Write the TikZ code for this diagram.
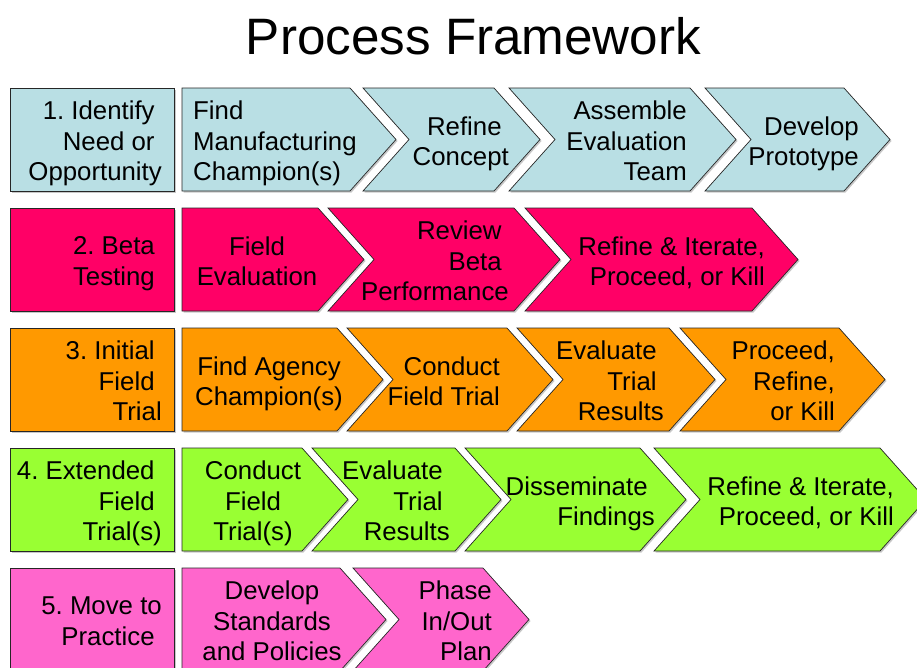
\documentclass[tikz,border=0pt]{standalone}
\usepackage{fontspec}
\setmainfont{Liberation Sans}
\usetikzlibrary{shadows}
\definecolor{idblue}{HTML}{B9DFE4}
\definecolor{betared}{HTML}{FF0066}
\definecolor{trialorange}{HTML}{FF9900}
\definecolor{extgreen}{HTML}{99FF33}
\definecolor{movepink}{HTML}{FF66CC}
\newcommand\tsp{\kern0.278em}
\frenchspacing
\begin{document}
\begin{tikzpicture}[x=1pt,y=-1pt]
			\tikzset{stage/.style={draw=black!85,line width=0.7pt,
					drop shadow={shadow xshift=1.5pt,shadow yshift=-1.5pt,fill=black!22,opacity=1}},
				txt/.style={inner sep=0pt,font=\fontsize{25.8}{30.5}\selectfont,
					execute at begin node=\strut,execute at end node=\strut},
				rtxt/.style={txt,anchor=east,align=right},
				ltxt/.style={txt,anchor=west,align=left},
				ctxt/.style={txt,align=center}}
			\useasboundingbox (0,0) rectangle (917,667);
			\clip (0,0) rectangle (917,667);
			\node[inner sep=0pt,font=\fontsize{51.2}{60}\selectfont] (title) at (473.5,36.5) {Process Framework};
			% 1. identify
			\draw[stage,fill=idblue] (10,88) rectangle (174,191);
			\draw[stage,fill=idblue] (182,88) -- (350,88) -- ++(46,51.5) -- (350,191) -- (182,191) -- cycle;
			\draw[stage,fill=idblue] (363,88) -- (494,88) -- ++(46,51.5) -- (494,191) -- (363,191) -- ++(46,-51.5) -- cycle;
			\draw[stage,fill=idblue] (509,88) -- (690,88) -- ++(46,51.5) -- (690,191) -- (509,191) -- ++(46,-51.5) -- cycle;
			\draw[stage,fill=idblue] (705,88) -- (844,88) -- ++(46,51.5) -- (844,191) -- (705,191) -- ++(46,-51.5) -- cycle;
			\node[rtxt] (ident) at (162,145.5) {1. Identify\tsp\\Need or\tsp\\Opportunity};
			\node[ltxt] (findman) at (193,145.5) {Find\\Manufacturing\\Champion(s)};
			\node[rtxt] (refcon) at (509,145.5) {Refine\tsp\\Concept};
			\node[rtxt] (assemble) at (687,145.5) {Assemble\\Evaluation\\Team};
			\node[rtxt] (proto) at (859,145.5) {Develop\\Prototype};
			% 2. beta
			\draw[stage,fill=betared] (10,208) rectangle (174,311);
			\draw[stage,fill=betared] (182,208) -- (318,208) -- ++(46,51.5) -- (318,311) -- (182,311) -- cycle;
			\draw[stage,fill=betared] (328,208) -- (514,208) -- ++(46,51.5) -- (514,311) -- (328,311) -- ++(46,-51.5) -- cycle;
			\draw[stage,fill=betared] (525,208) -- (752,208) -- ++(46,51.5) -- (752,311) -- (525,311) -- ++(46,-51.5) -- cycle;
			\node[rtxt] (beta) at (155,265.5) {2. Beta\\Testing};
			\node[ctxt] (fieldeval) at (257,265.5) {Field\\Evaluation};
			\node[rtxt] (review) at (509,265.5) {Review\tsp\\Beta\tsp\\Performance};
			\node[rtxt] (iterate) at (765,265.5) {Refine \& Iterate,\\Proceed, or Kill};
			% 3. initial
			\draw[stage,fill=trialorange] (10,328) rectangle (174,431);
			\draw[stage,fill=trialorange] (182,328) -- (337,328) -- ++(46,51.5) -- (337,431) -- (182,431) -- cycle;
			\draw[stage,fill=trialorange] (347,328) -- (507,328) -- ++(46,51.5) -- (507,431) -- (347,431) -- ++(46,-51.5) -- cycle;
			\draw[stage,fill=trialorange] (517,328) -- (669,328) -- ++(46,51.5) -- (669,431) -- (517,431) -- ++(46,-51.5) -- cycle;
			\draw[stage,fill=trialorange] (680,328) -- (839,328) -- ++(46,51.5) -- (839,431) -- (680,431) -- ++(46,-51.5) -- cycle;
			\node[rtxt] (initial) at (162,385.5) {3. Initial\tsp\\Field\tsp\\Trial};
			\node[ctxt] (agency) at (269,385.5) {Find Agency\\Champion(s)};
			\node[rtxt] (conduct) at (500,385.5) {Conduct\\Field Trial};
			\node[rtxt] (evaluate) at (664,385.5) {Evaluate\tsp\\Trial\tsp\\Results};
			\node[rtxt] (proceed) at (835,385.5) {Proceed,\\Refine,\\or Kill};
			% 4. extended
			\draw[stage,fill=extgreen] (10,448) rectangle (174,551);
			\draw[stage,fill=extgreen] (182,448) -- (302,448) -- ++(46,51.5) -- (302,551) -- (182,551) -- cycle;
			\draw[stage,fill=extgreen] (312,448) -- (455,448) -- ++(46,51.5) -- (455,551) -- (312,551) -- ++(46,-51.5) -- cycle;
			\draw[stage,fill=extgreen] (465,448) -- (640,448) -- ++(46,51.5) -- (640,551) -- (465,551) -- ++(46,-51.5) -- cycle;
			\draw[stage,fill=extgreen] (654,448) -- (880,448) -- ++(46,51.5) -- (880,551) -- (654,551) -- ++(46,-51.5) -- cycle;
			\node[rtxt] (extended) at (162,505.5) {4. Extended\tsp\\Field\tsp\\Trial(s)};
			\node[ctxt] (conductx) at (253,505.5) {Conduct\\Field\\Trial(s)};
			\node[rtxt] (evaluatex) at (450,505.5) {Evaluate\tsp\\Trial\tsp\\Results};
			\node[rtxt] (dissem) at (655,505.5) {Disseminate\tsp\\Findings};
			\node[rtxt] (iteratex) at (894,505.5) {Refine \& Iterate,\\Proceed, or Kill};
			% 5. practice
			\draw[stage,fill=movepink] (10,568) rectangle (174,671);
			\draw[stage,fill=movepink] (182,568) -- (340,568) -- ++(46,51.5) -- (340,671) -- (182,671) -- cycle;
			\draw[stage,fill=movepink] (353,568) -- (483,568) -- ++(46,51.5) -- (483,671) -- (353,671) -- ++(46,-51.5) -- cycle;
			\node[rtxt] (practice) at (162,625.5) {5. Move to\\Practice\tsp};
			\node[ctxt] (standards) at (272,625.5) {Develop\\Standards\\and Policies};
			\node[rtxt] (phase) at (492,625.5) {Phase\\In/Out\\Plan};
		\end{tikzpicture}
\end{document}
